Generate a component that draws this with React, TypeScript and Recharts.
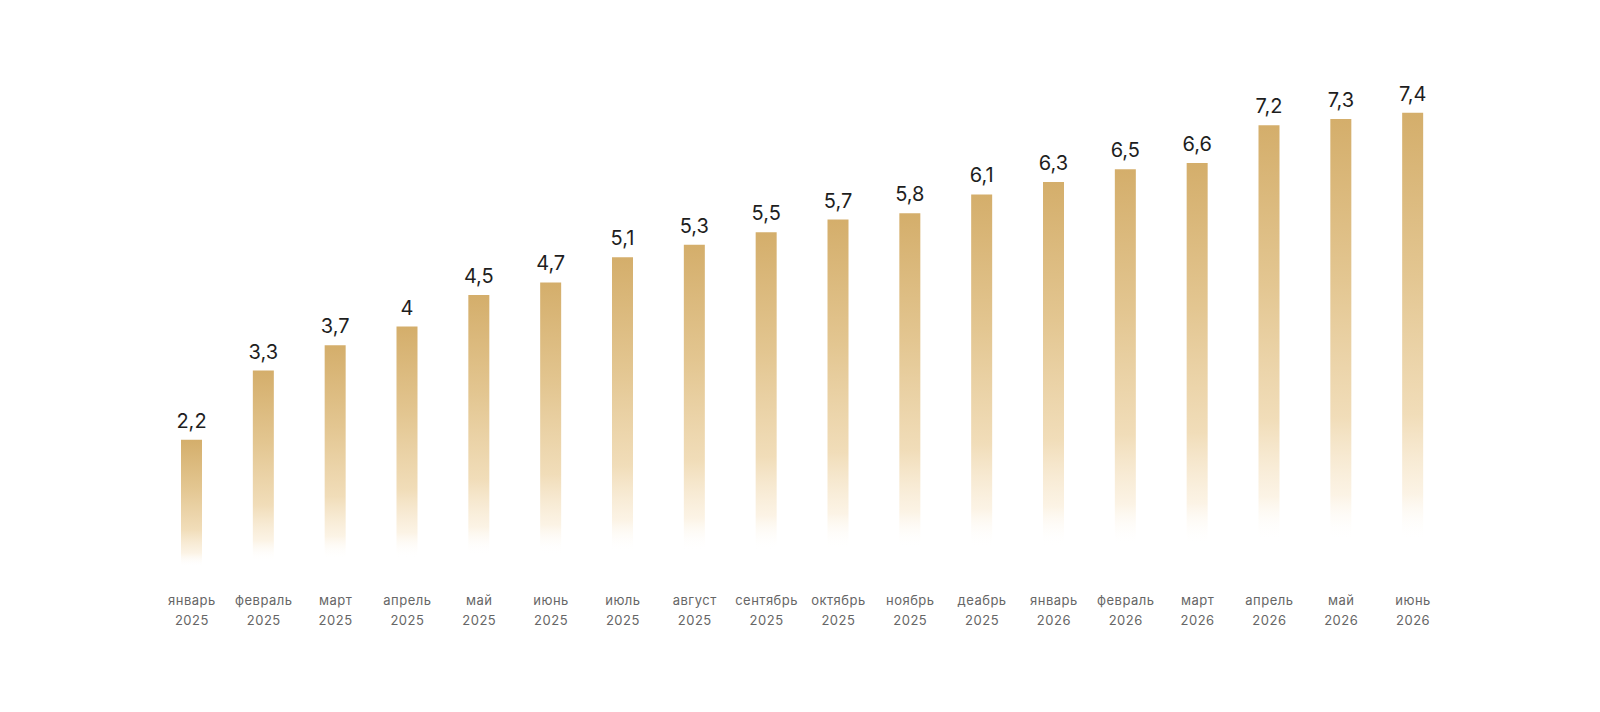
import React from "react";
import { BarChart, Bar, XAxis, YAxis, LabelList } from "recharts";

const months = [
  "январь", "февраль", "март", "апрель", "май", "июнь", "июль", "август", "сентябрь",
  "октябрь", "ноябрь", "деабрь", "январь", "февраль", "март", "апрель", "май", "июнь",
];
const years = [
  "2025", "2025", "2025", "2025", "2025", "2025", "2025", "2025", "2025",
  "2025", "2025", "2025", "2026", "2026", "2026", "2026", "2026", "2026",
];
const values = [2.2, 3.3, 3.7, 4, 4.5, 4.7, 5.1, 5.3, 5.5, 5.7, 5.8, 6.1, 6.3, 6.5, 6.6, 7.2, 7.3, 7.4];

const data = values.map((v, i) => ({ key: String(i), month: months[i], year: years[i], value: v }));

const FONT = "Inter, 'Noto Sans', sans-serif";

const Tick = (props: any) => {
  const { x, y, payload } = props;
  const i = Number(payload.value);
  return (
    <g transform={`translate(${x},${y})`}>
      <text x={0} y={19} textAnchor="middle" fill="#666666" fontSize={13} letterSpacing={0.5} fontFamily={FONT}>
        {months[i]}
      </text>
      <text x={0} y={39} textAnchor="middle" fill="#666666" fontSize={13} letterSpacing={0.5} fontFamily={FONT}>
        {years[i]}
      </text>
    </g>
  );
};

export default function App() {
  return (
    <div style={{ width: 1600, height: 712, background: "#fff" }}>
      <BarChart
        width={1600}
        height={712}
        data={data}
        margin={{ top: 67, right: 159, bottom: 0, left: 148 }}
        barSize={21}
      >
        <defs>
          <linearGradient id="goldFade" x1="0" y1="0" x2="0" y2="1">
            <stop offset="0%" stopColor="#D4AE6B" stopOpacity={1} />
            <stop offset="35%" stopColor="#E3C691" stopOpacity={1} />
            <stop offset="65%" stopColor="#F0DBB5" stopOpacity={0.95} />
            <stop offset="82%" stopColor="#FAEEDA" stopOpacity={0.7} />
            <stop offset="92%" stopColor="#FFFFFF" stopOpacity={0} />
          </linearGradient>
        </defs>
        <XAxis
          dataKey="key"
          axisLine={false}
          tickLine={false}
          interval={0}
          tick={<Tick />}
          height={142}
        />
        <YAxis hide domain={[0, 8]} />
        <Bar dataKey="value" fill="url(#goldFade)" isAnimationActive={false}>
          <LabelList
            dataKey="value"
            position="top"
            offset={12}
            formatter={(v: any) => String(v).replace(".", ",")}
            style={{ fill: "#1e1e1e", fontSize: 20, fontFamily: FONT }}
          />
        </Bar>
      </BarChart>
    </div>
  );
}
